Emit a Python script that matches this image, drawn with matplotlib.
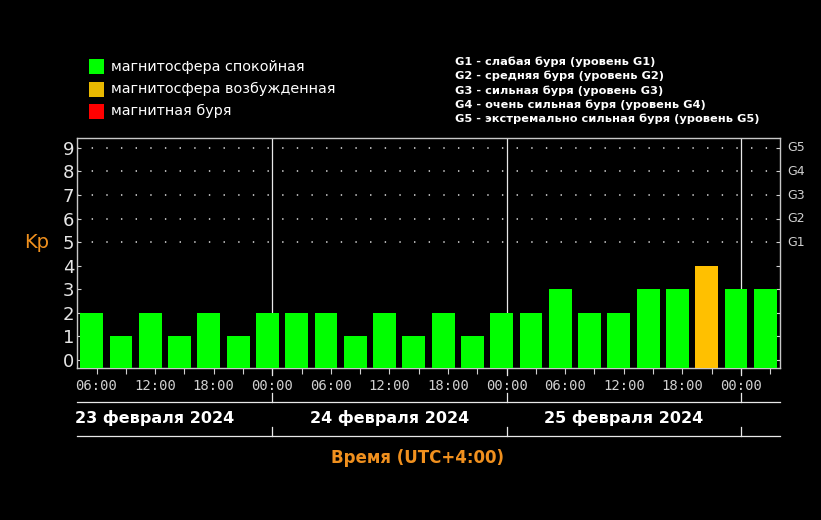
import matplotlib
matplotlib.use("Agg")
import matplotlib.pyplot as plt
from matplotlib.patches import Rectangle

plt.rcParams['font.family'] = ['DejaVu Sans']
plt.rcParams['lines.scale_dashes'] = False

# -------- Data --------
# Kp index, 3-hour intervals starting 23 Feb 2024 00:00 UTC (= 04:00 UTC+4)
kp = [2, 1, 2, 1, 2, 1, 2, 2, 2, 1, 2, 1, 2, 1, 2, 2, 3, 2, 2, 3, 3, 4, 3, 3]
start_hour = 4          # local hour of the first interval
step_hours = 3
day_labels = ["23 февраля 2024", "24 февраля 2024", "25 февраля 2024"]
g_labels = ["G1", "G2", "G3", "G4", "G5"]
g_levels = [5, 6, 7, 8, 9]
legend_items = ["магнитосфера спокойная", "магнитосфера возбужденная", "магнитная буря"]
g_legend = [
    "G1 - слабая буря (уровень G1)",
    "G2 - средняя буря (уровень G2)",
    "G3 - сильная буря (уровень G3)",
    "G4 - очень сильная буря (уровень G4)",
    "G5 - экстремально сильная буря (уровень G5)",
]

GREEN = "#00ff00"
YELLOW = "#ffc000"
RED = "#ff0000"
ORANGE = "#f0901e"
GRAY = "#d0d0d0"


def kp_color(v):
    if v >= 5:
        return RED
    if v >= 4:
        return YELLOW
    return GREEN


W, H = 821, 520
fig = plt.figure(figsize=(W / 100, H / 100), dpi=100, facecolor="black")

# axes in pixel box: x 77..780, y 138..368
ax = fig.add_axes([77 / W, (H - 368) / H, 703 / W, 230 / H], facecolor="black")

n = len(kp)
total = n * step_hours
xs = [step_hours * i + step_hours / 2 for i in range(n)]
ax.bar(xs, [v + 0.34 for v in kp], bottom=-0.34, width=step_hours * 0.78,
       color=[kp_color(v) for v in kp], linewidth=0, zorder=3)

ax.set_xlim(0, total)
ax.set_ylim(-0.34, 9.42)

# dotted grid for storm levels
for g in g_levels:
    ax.axhline(g, color=GRAY, linewidth=1.2, linestyle=(0, (1.0, 9.55)), zorder=1)

# day boundaries (local midnight)
day_starts = [h for h in range(0, total + 1) if (start_hour + h) % 24 == 0]
for d in day_starts:
    ax.axvline(d, color="#e8e8e8", linewidth=0.9, zorder=2)
    for y0, y1 in [(0, -0.03), (-0.109, -0.148), (-0.257, -0.296)]:
        ax.plot([d, d], [y0, y1], color="#e8e8e8", linewidth=0.9,
                transform=ax.get_xaxis_transform(), clip_on=False)

# separator lines under the time labels
for yy in [-0.148, -0.296]:
    ax.plot([0, 1], [yy, yy], color="#e8e8e8", linewidth=0.9,
            transform=ax.transAxes, clip_on=False)

# day labels, centred on local noon of each day
for i, lab in enumerate(day_labels):
    noon = day_starts[0] - 24 + 12 + 24 * i
    ax.text(noon, -0.216, lab, transform=ax.get_xaxis_transform(),
            ha="center", va="center", color="white", fontsize=11.5,
            fontweight="bold", clip_on=False)

# x ticks
major = [h for h in range(total) if (start_hour + h) % 6 == 0]
minor = [h for h in range(total) if (start_hour + h) % 3 == 0]
ax.set_xticks(major)
ax.set_xticklabels(["%02d:00" % ((start_hour + h) % 24) for h in major],
                   family="DejaVu Sans Mono", fontsize=10, color=GRAY)
ax.set_xticks(minor, minor=True)
ax.tick_params(axis="x", which="both", direction="out", length=4,
               color=GRAY, width=0.8, pad=4)

# y ticks
ax.set_yticks(range(10))
ax.set_yticklabels([str(v) for v in range(10)], fontsize=13, color="#e6e6e6")
ax.tick_params(axis="y", which="both", direction="in", length=3, color=GRAY,
               width=0.8, pad=2, left=True, right=True)

for s in ax.spines.values():
    s.set_color("#c8c8c8")
    s.set_linewidth(1.0)

# G levels on the right
for g, lab in zip(g_levels, g_labels):
    ax.text(1.011, g, lab, transform=ax.get_yaxis_transform(), ha="left",
            va="center", color=GRAY, fontsize=9, clip_on=False)

ax.text(-0.058, 5, "Kp", transform=ax.get_yaxis_transform(), ha="center",
        va="center", color=ORANGE, fontsize=14, clip_on=False)

fig.text(417 / W, 1 - 458 / H, "Время (UTC+4:00)", ha="center", va="center",
         color=ORANGE, fontsize=12, fontweight="bold")

# colour legend
for i, (lab, col) in enumerate(zip(legend_items, [GREEN, "#e8b800", RED])):
    yc = 67 + 22 * i
    fig.patches.append(Rectangle((89 / W, 1 - (yc + 7.5) / H), 15 / W, 15 / H,
                                 transform=fig.transFigure, facecolor=col,
                                 edgecolor="none"))
    fig.text(111 / W, 1 - yc / H, lab, ha="left", va="center",
             color="white", fontsize=10.4)

# storm level legend
for i, lab in enumerate(g_legend):
    fig.text(455 / W, 1 - (62 + 14.2 * i) / H, lab, ha="left", va="center",
             color="white", fontsize=8.2, fontweight="bold")

fig.savefig("out.png", dpi=100, facecolor="black")
